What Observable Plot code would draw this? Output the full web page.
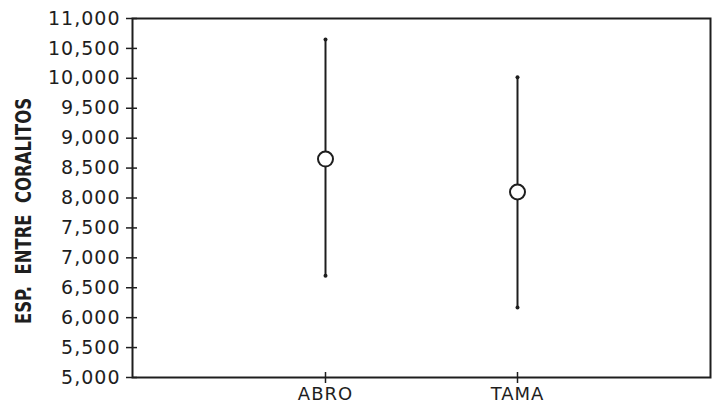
<!DOCTYPE html>
<html>
<head>
<meta charset="utf-8">
<script src="https://cdn.jsdelivr.net/npm/d3@7"></script>
<script src="https://cdn.jsdelivr.net/npm/@observablehq/plot@0.6"></script>
<style>
  html, body { margin: 0; padding: 0; background: #fff; }
  #chart { width: 716px; height: 408px; }
  .ytk text, .xtk text { letter-spacing: 1px; }
</style>
</head>
<body>
<div id="chart"></div>
<script>
const categories = ["ABRO", "TAMA"];
const means = [8650, 8100];
const lows = [6700, 6170];
const highs = [10650, 10020];
const yTicks = [5000, 5500, 6000, 6500, 7000, 7500, 8000, 8500, 9000, 9500, 10000, 10500, 11000];
const yLabel = "ESP.  ENTRE  CORALITOS";

const data = categories.map((c, i) => ({cat: c, mean: means[i], low: lows[i], high: highs[i]}));
const ends = data.flatMap(d => [{cat: d.cat, v: d.low}, {cat: d.cat, v: d.high}]);

const ink = "#1e1e1e";

const chart = Plot.plot({
  width: 716,
  height: 408,
  marginLeft: 132,
  marginRight: 6,
  marginTop: 18,
  marginBottom: 31,
  style: {background: "#fff", color: ink, fontFamily: "DejaVu Sans", fontSize: "19px"},
  x: {type: "point", domain: categories, padding: 1},
  y: {domain: [5000, 11000]},
  marks: [
    Plot.frame({stroke: ink, strokeWidth: 2}),
    Plot.axisY({ticks: yTicks, tickFormat: d3.format(","), tickSize: 6, tickPadding: 6, label: null, fontSize: 19, strokeWidth: 1.5, className: "ytk"}),
    Plot.axisY({ticks: yTicks, tickSize: -5, text: null, label: null, strokeWidth: 1.5}),
    Plot.axisX({tickSize: 6, tickPadding: 4, label: null, fontSize: 18, strokeWidth: 1.5, className: "xtk"}),
    Plot.axisX({tickSize: -5, text: null, label: null, strokeWidth: 1.5}),
    Plot.ruleX(data, {x: "cat", y1: "low", y2: "high", stroke: ink, strokeWidth: 2}),
    Plot.dot(ends, {x: "cat", y: "v", r: 2, fill: ink, stroke: "none"}),
    Plot.dot(data, {x: "cat", y: "mean", r: 7.5, fill: "#fff", stroke: ink, strokeWidth: 2}),
    Plot.text([yLabel], {frameAnchor: "left", textAnchor: "middle", dx: -108, dy: 13, rotate: -90, text: d => d,
      fontFamily: "DejaVu Sans Condensed", fontWeight: "bold", fontSize: 21, fill: ink,
      className: "ylab"})
  ]
});
d3.select(chart).selectAll(".ylab text")
  .attr("textLength", 226)
  .attr("lengthAdjust", "spacingAndGlyphs");
document.getElementById("chart").appendChild(chart);
</script>
</body>
</html>
